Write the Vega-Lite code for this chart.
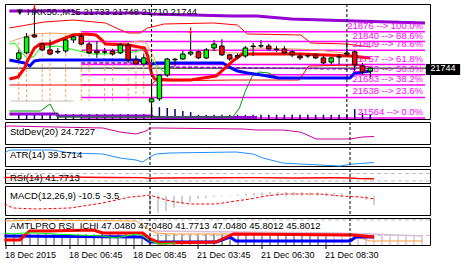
{
"$schema":"https://vega.github.io/schema/vega-lite/v6.json",
"background":"white",
"padding":{"left":2,"top":3,"right":0,"bottom":20},
"spacing":3,
"bounds":"flush",
"resolve":{"scale":{"x":"independent","y":"independent"},"axis":{"x":"independent","y":"independent"}},
"config":{"view":{"stroke":"black","strokeWidth":1},"font":"Liberation Sans",
"line":{"strokeJoin":"round","clip":true},
"rule":{"clip":true},
"axis":{"labelFont":"Liberation Sans","labelFontSize":9,"labelColor":"black","grid":false,"domain":false,"tickColor":"black","labelOverlap":false},
"text":{"font":"Liberation Sans"}},
"datasets":{
"candles":[{"i":0,"o":21777,"h":21810,"l":21770,"c":21799},{"i":1,"o":21799,"h":21871,"l":21795,"c":21857},{"i":2,"o":21864,"h":21960,"l":21853,"c":21857},{"i":3,"o":21831,"h":21835,"l":21806,"c":21810},{"i":4,"o":21810,"h":21846,"l":21792,"c":21795},{"i":5,"o":21805,"h":21817,"l":21795,"c":21802},{"i":6,"o":21806,"h":21849,"l":21799,"c":21846},{"i":7,"o":21846,"h":21868,"l":21835,"c":21857},{"i":8,"o":21860,"h":21868,"l":21828,"c":21831},{"i":9,"o":21831,"h":21839,"l":21795,"c":21799},{"i":10,"o":21806,"h":21842,"l":21781,"c":21799},{"i":11,"o":21803,"h":21817,"l":21795,"c":21802},{"i":12,"o":21806,"h":21813,"l":21790,"c":21795},{"i":13,"o":21799,"h":21835,"l":21795,"c":21828},{"i":14,"o":21828,"h":21835,"l":21763,"c":21774},{"i":15,"o":21774,"h":21790,"l":21756,"c":21759},{"i":16,"o":21759,"h":21795,"l":21752,"c":21781},{"i":17,"o":21622,"h":21700,"l":21564,"c":21633},{"i":18,"o":21633,"h":21723,"l":21625,"c":21719},{"i":19,"o":21719,"h":21781,"l":21712,"c":21777},{"i":20,"o":21774,"h":21781,"l":21750,"c":21776},{"i":21,"o":21777,"h":21806,"l":21774,"c":21795},{"i":22,"o":21795,"h":21868,"l":21788,"c":21802},{"i":23,"o":21803,"h":21810,"l":21777,"c":21781},{"i":24,"o":21781,"h":21817,"l":21777,"c":21810},{"i":25,"o":21817,"h":21846,"l":21806,"c":21831},{"i":26,"o":21824,"h":21849,"l":21788,"c":21792},{"i":27,"o":21792,"h":21795,"l":21770,"c":21777},{"i":28,"o":21790,"h":21797,"l":21777,"c":21784},{"i":29,"o":21788,"h":21824,"l":21781,"c":21817},{"i":30,"o":21822,"h":21835,"l":21788,"c":21824},{"i":31,"o":21824,"h":21845,"l":21817,"c":21825},{"i":32,"o":21824,"h":21832,"l":21806,"c":21813},{"i":33,"o":21813,"h":21824,"l":21803,"c":21811},{"i":34,"o":21813,"h":21824,"l":21795,"c":21799},{"i":35,"o":21803,"h":21810,"l":21784,"c":21792},{"i":36,"o":21788,"h":21795,"l":21773,"c":21781},{"i":37,"o":21789,"h":21795,"l":21781,"c":21788},{"i":38,"o":21792,"h":21797,"l":21777,"c":21781},{"i":39,"o":21781,"h":21788,"l":21759,"c":21763},{"i":40,"o":21766,"h":21784,"l":21756,"c":21781},{"i":41,"o":21785,"h":21795,"l":21756,"c":21784},{"i":42,"o":21799,"h":21842,"l":21788,"c":21795},{"i":43,"o":21803,"h":21810,"l":21734,"c":21756},{"i":44,"o":21752,"h":21763,"l":21719,"c":21730},{"i":45,"o":21733,"h":21748,"l":21710,"c":21744}],
"fib":[{"level":21876,"label":"21876 --> 100.0%"},{"level":21840,"label":"21840 --> 88.6%"},{"level":21809,"label":"21809 --> 78.6%"},{"level":21757,"label":"21757 --> 61.8%"},{"level":21720,"label":"21720 --> 50.0%"},{"level":21683,"label":"21683 --> 38.2%"},{"level":21638,"label":"21638 --> 23.6%"},{"level":21564,"label":"21564 --> 0.0%"}],
"pTop":[{"i":-1.2,"p":21950.7},{"i":7,"p":21950.7},{"i":7.4,"p":21943.4},{"i":16.1,"p":21943.4},{"i":17,"p":21939.8},{"i":27.4,"p":21932.6},{"i":30.5,"p":21932.6},{"i":34.9,"p":21921.7},{"i":43,"p":21914.5},{"i":52,"p":21907.3}],
"pBot":[{"i":-1.2,"p":21578.1},{"i":4.9,"p":21578.1},{"i":5.1,"p":21570.9},{"i":17,"p":21570.9},{"i":17.4,"p":21565.4},{"i":30.5,"p":21565.4}],
"blue":[{"i":-1.2,"p":21773.4},{"i":0.75,"p":21762.6},{"i":1.4,"p":21751.7},{"i":2,"p":21769.8},{"i":2.75,"p":21773.4},{"i":15.25,"p":21773.4},{"i":16.5,"p":21762.6},{"i":17,"p":21759},{"i":17.75,"p":21762.6},{"i":26.1,"p":21762.6},{"i":27.4,"p":21740.9},{"i":28,"p":21733.6},{"i":29.25,"p":21726.4},{"i":31.1,"p":21719.2},{"i":33.25,"p":21708.3},{"i":42.4,"p":21708.3},{"i":43,"p":21726.4},{"i":45,"p":21733.6}],
"redT":[{"i":-1.2,"p":21704.7},{"i":-0.1,"p":21711.9},{"i":0.75,"p":21744.5},{"i":1.1,"p":21769.8},{"i":2,"p":21816.8},{"i":2.75,"p":21831.3},{"i":4,"p":21831.3},{"i":5.25,"p":21845.8},{"i":7,"p":21863.9},{"i":8.6,"p":21867.5},{"i":9.9,"p":21863.9},{"i":10.75,"p":21842.2},{"i":11.1,"p":21831.3},{"i":14,"p":21827.7},{"i":16.1,"p":21816.8},{"i":16.5,"p":21787.9},{"i":17,"p":21722.8},{"i":17.4,"p":21704.7},{"i":19.5,"p":21701},{"i":22,"p":21701},{"i":23.6,"p":21708.3},{"i":25.25,"p":21715.5},{"i":27.4,"p":21769.8},{"i":28.6,"p":21795.1},{"i":36.1,"p":21795.1},{"i":42.4,"p":21787.9},{"i":45,"p":21780.7}],
"bbU":[{"i":-1.2,"p":21889.2},{"i":3.25,"p":21910.9},{"i":7,"p":21918.1},{"i":11.1,"p":21907.3},{"i":12.75,"p":21885.6},{"i":14,"p":21871.1},{"i":15.5,"p":21871.1},{"i":16.5,"p":21889.2},{"i":18.6,"p":21903.7},{"i":24.9,"p":21907.3},{"i":28,"p":21900},{"i":29.25,"p":21867.5},{"i":36.1,"p":21863.9},{"i":37.4,"p":21834.9},{"i":42,"p":21831.3},{"i":45,"p":21820.5}],
"bbL":[{"i":-1.2,"p":21683},{"i":17,"p":21683},{"i":17.4,"p":21697.5},{"i":27.4,"p":21701},{"i":35.9,"p":21701},{"i":37.1,"p":21751.7},{"i":43,"p":21755.3},{"i":45,"p":21748.1}],
"grn":[{"i":-1.2,"p":21831.3},{"i":-0.5,"p":21834.9},{"i":0.25,"p":21806},{"i":1.1,"p":21777},{"i":2,"p":21787.9},{"i":2.75,"p":21816.8},{"i":3.6,"p":21820.5},{"i":4.9,"p":21824.1},{"i":6.1,"p":21816.8},{"i":7.75,"p":21806},{"i":9.5,"p":21795.1},{"i":11.1,"p":21795.1},{"i":12.4,"p":21798.8},{"i":13.25,"p":21806},{"i":14,"p":21798.8},{"i":15.25,"p":21806},{"i":16.1,"p":21813.2},{"i":17,"p":21777},{"i":17.75,"p":21751.7},{"i":18.6,"p":21730}],
"grnB":[{"i":-1.2,"p":21588.9},{"i":2.75,"p":21588.9},{"i":4,"p":21614.3},{"i":4.9,"p":21567.2},{"i":27.4,"p":21567.2},{"i":28.25,"p":21599.8},{"i":29,"p":21661.3},{"i":29.9,"p":21715.5},{"i":30.75,"p":21730},{"i":32,"p":21726.4},{"i":33.25,"p":21708.3},{"i":42.4,"p":21708.3}],
"orC":[{"g":"a","i":-1.2,"p":21838.5},{"g":"a","i":-0.1,"p":21849.4},{"g":"a","i":2,"p":21867.5},{"g":"a","i":4,"p":21871.1},{"g":"a","i":7,"p":21867.5},{"g":"a","i":9.5,"p":21867.5},{"g":"a","i":10.25,"p":21849.4},{"g":"a","i":11.1,"p":21834.9},{"g":"a","i":13.6,"p":21834.9},{"g":"a","i":15.5,"p":21842.2},{"g":"a","i":16.1,"p":21842.2},{"g":"a","i":16.5,"p":21824.1},{"g":"a","i":17.4,"p":21777},{"g":"a","i":17.75,"p":21715.5},{"g":"b","i":22.4,"p":21784.3},{"g":"b","i":23.6,"p":21798.8},{"g":"b","i":24.9,"p":21813.2},{"g":"b","i":26.75,"p":21798.8},{"g":"b","i":28.25,"p":21798.8},{"g":"b","i":29.9,"p":21816.8},{"g":"b","i":35.75,"p":21813.2},{"g":"b","i":38.25,"p":21809.6},{"g":"b","i":41.5,"p":21798.8},{"g":"b","i":43,"p":21787.9},{"g":"b","i":44.25,"p":21769.8}],
"orV":[{"i":0,"t":21838.5},{"i":1,"t":21849},{"i":3,"t":21867.5},{"i":4,"t":21871.1},{"i":6,"t":21868},{"i":8,"t":21867.5},{"i":9,"t":21867.5},{"i":11,"t":21834.9},{"i":12,"t":21834.9},{"i":14,"t":21834.9},{"i":15,"t":21842.2},{"i":16,"t":21842.2}],
"purD":[{"g":"a","i":8,"p":21762.6},{"g":"a","i":17,"p":21762.6},{"g":"b","i":18.6,"p":21748.1},{"g":"b","i":43,"p":21740.9}],
"vol":[{"i":0,"v":21578},{"i":1,"v":21578},{"i":2,"v":21578},{"i":3,"v":21578},{"i":4,"v":21578},{"i":5,"v":21578},{"i":6,"v":21578},{"i":7,"v":21578},{"i":8,"v":21578},{"i":9,"v":21578},{"i":10,"v":21578},{"i":11,"v":21578},{"i":12,"v":21578},{"i":13,"v":21578},{"i":14,"v":21578},{"i":15,"v":21578},{"i":16,"v":21578},{"i":17,"v":21603},{"i":18,"v":21603},{"i":19,"v":21600},{"i":20,"v":21596},{"i":21,"v":21589},{"i":22,"v":21585},{"i":23,"v":21575},{"i":24,"v":21575},{"i":25,"v":21575},{"i":26,"v":21575},{"i":27,"v":21575},{"i":28,"v":21575},{"i":29,"v":21575},{"i":30,"v":21575},{"i":31,"v":21575},{"i":32,"v":21575},{"i":33,"v":21575},{"i":34,"v":21575},{"i":35,"v":21575},{"i":36,"v":21575},{"i":37,"v":21575},{"i":38,"v":21575},{"i":39,"v":21575},{"i":40,"v":21575},{"i":41,"v":21575},{"i":42,"v":21575},{"i":43,"v":21596},{"i":44,"v":21582},{"i":45,"v":21578}],
"arrows":[{"i":2,"p":21964},{"i":22,"p":21878}],
"sep":[{"i":17},{"i":42}],
"xl":[{"i":-1,"t":"18 Dec 2015"},{"i":7,"t":"18 Dec 06:45"},{"i":15,"t":"18 Dec 08:45"},{"i":23,"t":"21 Dec 03:45"},{"i":31,"t":"21 Dec 06:30"},{"i":39,"t":"21 Dec 08:30"}],
"std":[{"i":-1.2,"v":47.84},{"i":-0.75,"v":50.66},{"i":11.1,"v":45.03},{"i":13.25,"v":33.77},{"i":15.25,"v":28.14},{"i":16.5,"v":36.59},{"i":17,"v":45.03},{"i":17.75,"v":45.03},{"i":28.6,"v":42.22},{"i":30.25,"v":39.4},{"i":33.6,"v":39.4},{"i":35.75,"v":33.77},{"i":36.4,"v":28.14},{"i":37.75,"v":14.07},{"i":42,"v":14.07},{"i":42.75,"v":16.89},{"i":43.6,"v":19.7},{"i":45,"v":21.11}],
"atr":[{"i":-1.2,"v":62.76},{"i":-0.5,"v":70.32},{"i":4.9,"v":70.32},{"i":7,"v":62.76},{"i":11.1,"v":60.23},{"i":13.25,"v":50.14},{"i":15.25,"v":45.1},{"i":16.1,"v":40.05},{"i":17,"v":52.67},{"i":17.75,"v":60.23},{"i":19.5,"v":62.76},{"i":27.75,"v":65.29},{"i":29.9,"v":60.23},{"i":31.1,"v":50.14},{"i":33.6,"v":37.53},{"i":35.75,"v":35.01},{"i":40.75,"v":29.96},{"i":41.5,"v":32.49},{"i":42.4,"v":35.01},{"i":45,"v":38.79}],
"rsi":[{"i":-1.2,"v":49},{"i":3,"v":48},{"i":8,"v":50},{"i":12,"v":49},{"i":16,"v":48},{"i":17,"v":45},{"i":18,"v":46},{"i":25,"v":47},{"i":30,"v":48},{"i":35,"v":46},{"i":40,"v":47},{"i":42,"v":46},{"i":43,"v":43},{"i":45,"v":41.77}],
"macdS":[{"i":-1.2,"v":-9.32},{"i":-0.1,"v":-13.86},{"i":2.75,"v":-14.99},{"i":7,"v":-13.86},{"i":11.1,"v":-8.19},{"i":14.5,"v":-1.38},{"i":16.1,"v":-0.24},{"i":17,"v":0.89},{"i":17.75,"v":-1.38},{"i":19.5,"v":-5.92},{"i":22,"v":-9.32},{"i":25.25,"v":-9.32},{"i":27.75,"v":-5.92},{"i":29.5,"v":-3.65},{"i":31.5,"v":-0.24},{"i":33.6,"v":2.03},{"i":35.75,"v":2.03},{"i":38.25,"v":2.03},{"i":40.75,"v":-0.24},{"i":43.25,"v":-1.38},{"i":45,"v":-3.5}],
"macdH":[{"i":17,"v":-20.7},{"i":18,"v":-19.2},{"i":19,"v":-17.3},{"i":20,"v":-13.5},{"i":21,"v":-9.7},{"i":22,"v":-6.8},{"i":23,"v":-3.6},{"i":24,"v":-2.5},{"i":25,"v":-1.5},{"i":26,"v":-0.8},{"i":27,"v":0.5},{"i":28,"v":1.5},{"i":29,"v":2.5},{"i":30,"v":3.2},{"i":31,"v":3.8},{"i":32,"v":4.2},{"i":33,"v":4.3},{"i":34,"v":4.3},{"i":35,"v":4.2},{"i":36,"v":4},{"i":37,"v":3.8},{"i":38,"v":3.6},{"i":39,"v":3.4},{"i":40,"v":3.2},{"i":41,"v":3},{"i":42,"v":2},{"i":43,"v":-1.5},{"i":44,"v":-4.5},{"i":45,"v":-10.5}],
"amO":[{"i":-1.2,"v":68.62},{"i":2.75,"v":69.92},{"i":15.25,"v":68.62},{"i":16.5,"v":59.57},{"i":17.75,"v":53.1},{"i":19.5,"v":51.81},{"i":36.1,"v":51.81},{"i":42.4,"v":49.22},{"i":44.5,"v":42.76},{"i":51.1,"v":42.76}],
"amT":[{"i":17,"v":55.69},{"i":40.25,"v":53.1},{"i":44.5,"v":51.81},{"i":51.1,"v":49.22}],
"amR":[{"i":-1.2,"v":44.05},{"i":0.75,"v":44.05},{"i":1.5,"v":51.81},{"i":2,"v":55.69},{"i":4,"v":55.69},{"i":9.9,"v":56.98},{"i":11.1,"v":53.1},{"i":16.1,"v":53.1},{"i":17,"v":45.34},{"i":18.25,"v":40.17},{"i":25.25,"v":41.46},{"i":27.4,"v":51.81},{"i":42.4,"v":50.51},{"i":45,"v":47.93}],
"amB":[{"i":-1.2,"v":49.22},{"i":16.1,"v":47.93},{"i":17,"v":41.46},{"i":25.25,"v":41.46},{"i":27,"v":47.93},{"i":27.75,"v":42.76},{"i":42,"v":42.76},{"i":42.75,"v":47.93},{"i":45,"v":47.93}],
"amG":[{"i":-1.2,"v":53.1},{"i":-0.1,"v":51.81},{"i":1.1,"v":53.1},{"i":2.75,"v":53.1},{"i":4.9,"v":51.81},{"i":11.1,"v":49.22},{"i":12.75,"v":46.63},{"i":15.25,"v":51.81},{"i":16.1,"v":49.22},{"i":17,"v":42.76},{"i":18.25,"v":38.87},{"i":20.25,"v":40.17}],
"amV":[{"i":-1,"v":51.81},{"i":0,"v":51.81},{"i":1,"v":51.81},{"i":2,"v":51.81},{"i":3,"v":51.81},{"i":4,"v":51.81},{"i":5,"v":51.81},{"i":6,"v":51.81},{"i":7,"v":51.81},{"i":8,"v":51.81},{"i":9,"v":51.81},{"i":10,"v":51.81},{"i":11,"v":51.81},{"i":12,"v":51.81},{"i":13,"v":51.81},{"i":14,"v":51.81},{"i":15,"v":51.81},{"i":16,"v":51.81},{"i":17,"v":51.81},{"i":18,"v":51.81},{"i":19,"v":51.81},{"i":20,"v":51.81},{"i":21,"v":51.81},{"i":22,"v":51.81},{"i":23,"v":51.81},{"i":24,"v":51.81},{"i":25,"v":51.81},{"i":26,"v":51.81},{"i":27,"v":51.81},{"i":28,"v":51.81},{"i":29,"v":51.81},{"i":30,"v":51.81},{"i":31,"v":51.81},{"i":32,"v":51.81},{"i":33,"v":51.81},{"i":34,"v":51.81},{"i":35,"v":51.81},{"i":36,"v":51.81},{"i":37,"v":51.81},{"i":38,"v":51.81},{"i":39,"v":51.81},{"i":40,"v":53},{"i":41,"v":53},{"i":42,"v":53},{"i":43,"v":53},{"i":44,"v":52},{"i":45,"v":51.5},{"i":46,"v":51},{"i":47,"v":50.5},{"i":48,"v":50},{"i":49,"v":49.8},{"i":50,"v":49.5},{"i":51,"v":49.3}]
},
"vconcat":[
{"width":425,"height":115,
"layer":[
{"data":{"name":"fib"},"mark":{"type":"rule","color":"#FF00FF","strokeWidth":1.5},"encoding":{"x":{"datum":8,"type":"quantitative","scale":{"domain":[-1.125,52],"nice":false,"zero":false},"axis":null},"x2":{"datum":52},"y":{"field":"level","type":"quantitative","scale":{"domain":[21560,21976],"nice":false,"zero":false},"axis":{"orient":"right","values":[21564,21684,21804,21929],"format":"d","tickSize":3,"labelPadding":2,"labelFlush":false,"title":null}}}},
{"data":{"values":[{"p":21744}]},"mark":{"type":"rule","color":"black","strokeWidth":1},"encoding":{"y":{"field":"p","type":"quantitative","scale":{"domain":[21560,21976],"nice":false,"zero":false},"axis":null}}},
{"data":{"values":[{"a":-1,"b":7,"p":21625}]},"mark":{"type":"rule","color":"#C0C0C0","strokeWidth":1},"encoding":{"x":{"field":"a","type":"quantitative","scale":{"domain":[-1.125,52],"nice":false,"zero":false},"axis":null},"x2":{"field":"b"},"y":{"field":"p","type":"quantitative","scale":{"domain":[21560,21976],"nice":false,"zero":false},"axis":null}}},
{"data":{"name":"orV"},"mark":{"type":"rule","color":"#F4A460","strokeWidth":1,"strokeDash":[3,2]},"encoding":{"x":{"field":"i","type":"quantitative","scale":{"domain":[-1.125,52],"nice":false,"zero":false},"axis":null},"y":{"field":"t","type":"quantitative","scale":{"domain":[21560,21976],"nice":false,"zero":false},"axis":null},"y2":{"datum":21625}}},
{"data":{"name":"vol"},"mark":{"type":"rule","color":"#000080","strokeWidth":1.5},"encoding":{"x":{"field":"i","type":"quantitative","scale":{"domain":[-1.125,52],"nice":false,"zero":false},"axis":null},"y":{"field":"v","type":"quantitative","scale":{"domain":[21560,21976],"nice":false,"zero":false},"axis":null},"y2":{"datum":21560}}},
{"data":{"name":"pTop"},"mark":{"type":"line","color":"#9400D3","strokeWidth":3},"encoding":{"x":{"field":"i","type":"quantitative","scale":{"domain":[-1.125,52],"nice":false,"zero":false},"axis":null},"y":{"field":"p","type":"quantitative","scale":{"domain":[21560,21976],"nice":false,"zero":false},"axis":null}}},
{"data":{"name":"pBot"},"mark":{"type":"line","color":"#9400D3","strokeWidth":3},"encoding":{"x":{"field":"i","type":"quantitative","scale":{"domain":[-1.125,52],"nice":false,"zero":false},"axis":null},"y":{"field":"p","type":"quantitative","scale":{"domain":[21560,21976],"nice":false,"zero":false},"axis":null}}},
{"data":{"name":"grnB"},"mark":{"type":"line","color":"#009900","strokeWidth":1},"encoding":{"x":{"field":"i","type":"quantitative","scale":{"domain":[-1.125,52],"nice":false,"zero":false},"axis":null},"y":{"field":"p","type":"quantitative","scale":{"domain":[21560,21976],"nice":false,"zero":false},"axis":null}}},
{"data":{"name":"bbU"},"mark":{"type":"line","color":"#FF0000","strokeWidth":1},"encoding":{"x":{"field":"i","type":"quantitative","scale":{"domain":[-1.125,52],"nice":false,"zero":false},"axis":null},"y":{"field":"p","type":"quantitative","scale":{"domain":[21560,21976],"nice":false,"zero":false},"axis":null}}},
{"data":{"name":"bbL"},"mark":{"type":"line","color":"#FF0000","strokeWidth":1},"encoding":{"x":{"field":"i","type":"quantitative","scale":{"domain":[-1.125,52],"nice":false,"zero":false},"axis":null},"y":{"field":"p","type":"quantitative","scale":{"domain":[21560,21976],"nice":false,"zero":false},"axis":null}}},
{"data":{"name":"orC"},"mark":{"type":"line","color":"#F4A460","strokeWidth":1},"encoding":{"x":{"field":"i","type":"quantitative","scale":{"domain":[-1.125,52],"nice":false,"zero":false},"axis":null},"y":{"field":"p","type":"quantitative","scale":{"domain":[21560,21976],"nice":false,"zero":false},"axis":null},"detail":{"field":"g"}}},
{"data":{"name":"purD"},"mark":{"type":"line","color":"#9400D3","strokeWidth":1.5,"strokeDash":[4,2]},"encoding":{"x":{"field":"i","type":"quantitative","scale":{"domain":[-1.125,52],"nice":false,"zero":false},"axis":null},"y":{"field":"p","type":"quantitative","scale":{"domain":[21560,21976],"nice":false,"zero":false},"axis":null},"detail":{"field":"g"}}},
{"data":{"name":"blue"},"mark":{"type":"line","color":"#0000FF","strokeWidth":3},"encoding":{"x":{"field":"i","type":"quantitative","scale":{"domain":[-1.125,52],"nice":false,"zero":false},"axis":null},"y":{"field":"p","type":"quantitative","scale":{"domain":[21560,21976],"nice":false,"zero":false},"axis":null}}},
{"data":{"name":"grn"},"mark":{"type":"line","color":"#00FF00","strokeWidth":1},"encoding":{"x":{"field":"i","type":"quantitative","scale":{"domain":[-1.125,52],"nice":false,"zero":false},"axis":null},"y":{"field":"p","type":"quantitative","scale":{"domain":[21560,21976],"nice":false,"zero":false},"axis":null}}},
{"data":{"name":"redT"},"mark":{"type":"line","color":"#FF0000","strokeWidth":3},"encoding":{"x":{"field":"i","type":"quantitative","scale":{"domain":[-1.125,52],"nice":false,"zero":false},"axis":null},"y":{"field":"p","type":"quantitative","scale":{"domain":[21560,21976],"nice":false,"zero":false},"axis":null}}},
{"data":{"name":"sep"},"mark":{"type":"rule","color":"black","strokeWidth":1,"strokeDash":[3,2]},"encoding":{"x":{"field":"i","type":"quantitative","scale":{"domain":[-1.125,52],"nice":false,"zero":false},"axis":null}}},
{"data":{"name":"fib"},"mark":{"type":"text","color":"#FF00FF","fontSize":9.5,"align":"right","baseline":"bottom","dy":-1},"encoding":{"x":{"datum":51.75,"type":"quantitative","scale":{"domain":[-1.125,52],"nice":false,"zero":false},"axis":null},"y":{"field":"level","type":"quantitative","scale":{"domain":[21560,21976],"nice":false,"zero":false},"axis":null},"text":{"field":"label"}}},
{"data":{"name":"candles"},"mark":{"type":"rule","color":"black","strokeWidth":1},"encoding":{"x":{"field":"i","type":"quantitative","scale":{"domain":[-1.125,52],"nice":false,"zero":false},"axis":null},"y":{"field":"l","type":"quantitative","scale":{"domain":[21560,21976],"nice":false,"zero":false},"axis":null},"y2":{"field":"h"}}},
{"data":{"name":"candles"},"mark":{"type":"bar","size":4.5,"stroke":"black","strokeWidth":1},"encoding":{"x":{"field":"i","type":"quantitative","scale":{"domain":[-1.125,52],"nice":false,"zero":false},"axis":null},"y":{"field":"o","type":"quantitative","scale":{"domain":[21560,21976],"nice":false,"zero":false},"axis":null},"y2":{"field":"c"},"fill":{"condition":{"test":"datum.c >= datum.o","value":"#00FF00"},"value":"#FF0000"}}},
{"data":{"name":"arrows"},"mark":{"type":"point","shape":"arrow","angle":180,"size":60,"filled":true,"color":"#FF0000","opacity":1,"clip":true},"encoding":{"x":{"field":"i","type":"quantitative","scale":{"domain":[-1.125,52],"nice":false,"zero":false},"axis":null},"y":{"field":"p","type":"quantitative","scale":{"domain":[21560,21976],"nice":false,"zero":false},"axis":null}}},
{"data":{"values":[{"t":"▼  HKK50.,M15  21733 21748 21710 21744"}]},"mark":{"type":"text","color":"black","fontSize":9.5,"align":"left","baseline":"alphabetic"},"encoding":{"x":{"datum":-0.5,"type":"quantitative","scale":{"domain":[-1.125,52],"nice":false,"zero":false},"axis":null},"y":{"datum":21936,"type":"quantitative","scale":{"domain":[21560,21976],"nice":false,"zero":false},"axis":null},"text":{"field":"t"}}},
{"data":{"values":[{"p":21744}]},"mark":{"type":"rect","color":"black"},"encoding":{"x":{"datum":52.1,"type":"quantitative","scale":{"domain":[-1.125,52],"nice":false,"zero":false},"axis":null},"x2":{"datum":56.5},"y":{"datum":21759,"type":"quantitative","scale":{"domain":[21560,21976],"nice":false,"zero":false},"axis":null},"y2":{"datum":21719}}},
{"data":{"values":[{"p":21744}]},"mark":{"type":"text","color":"white","fontSize":9,"align":"left","baseline":"middle"},"encoding":{"x":{"datum":52.7,"type":"quantitative","scale":{"domain":[-1.125,52],"nice":false,"zero":false},"axis":null},"y":{"field":"p","type":"quantitative","scale":{"domain":[21560,21976],"nice":false,"zero":false},"axis":null},"text":{"field":"p","type":"quantitative","format":"d"}}}
]},
{"width":425,"height":22,
"layer":[
{"data":{"name":"std"},"mark":{"type":"line","color":"#CC0099","strokeWidth":1},"encoding":{"x":{"field":"i","type":"quantitative","scale":{"domain":[-1.125,52],"nice":false,"zero":false},"axis":null},"y":{"field":"v","type":"quantitative","scale":{"domain":[0,61.9157],"nice":false,"zero":false},"axis":{"orient":"right","values":[0,61.9157],"labelExpr":"datum.value == 0 ? '0' : '61.9157'","ticks":false,"labelPadding":5,"labelFlush":true,"title":null}}}},
{"data":{"name":"sep"},"mark":{"type":"rule","color":"black","strokeWidth":1,"strokeDash":[3,2]},"encoding":{"x":{"field":"i","type":"quantitative","scale":{"domain":[-1.125,52],"nice":false,"zero":false},"axis":null}}},
{"data":{"values":[{"t":"StdDev(20) 24.7227"}]},"mark":{"type":"text","color":"black","fontSize":9.5,"align":"left","baseline":"alphabetic"},"encoding":{"x":{"datum":-0.5,"type":"quantitative","scale":{"domain":[-1.125,52],"nice":false,"zero":false},"axis":null},"y":{"datum":25.33,"type":"quantitative","scale":{"domain":[0,61.9157],"nice":false,"zero":false},"axis":null},"text":{"field":"t"}}}
]},
{"width":425,"height":19,
"layer":[
{"data":{"name":"atr"},"mark":{"type":"line","color":"#1E90FF","strokeWidth":1},"encoding":{"x":{"field":"i","type":"quantitative","scale":{"domain":[-1.125,52],"nice":false,"zero":false},"axis":null},"y":{"field":"v","type":"quantitative","scale":{"domain":[29.9643,77.8929],"nice":false,"zero":false},"axis":{"orient":"right","values":[29.9643,77.8929],"format":".4f","ticks":false,"labelPadding":5,"labelFlush":true,"title":null}}}},
{"data":{"name":"sep"},"mark":{"type":"rule","color":"black","strokeWidth":1,"strokeDash":[3,2]},"encoding":{"x":{"field":"i","type":"quantitative","scale":{"domain":[-1.125,52],"nice":false,"zero":false},"axis":null}}},
{"data":{"values":[{"t":"ATR(14) 39.5714"}]},"mark":{"type":"text","color":"black","fontSize":9.5,"align":"left","baseline":"alphabetic"},"encoding":{"x":{"datum":-0.5,"type":"quantitative","scale":{"domain":[-1.125,52],"nice":false,"zero":false},"axis":null},"y":{"datum":50.14,"type":"quantitative","scale":{"domain":[29.9643,77.8929],"nice":false,"zero":false},"axis":null},"text":{"field":"t"}}}
]},
{"width":425,"height":14,
"layer":[
{"data":{"values":[{"v":70},{"v":30}]},"mark":{"type":"rule","color":"#C0C0C0","strokeWidth":1,"strokeDash":[4,3]},"encoding":{"y":{"field":"v","type":"quantitative","scale":{"domain":[19.33,94],"nice":false,"zero":false},"axis":{"orient":"right","values":[30,50,70],"format":"d","ticks":false,"labelPadding":5,"labelFlush":false,"title":null}}}},
{"data":{"name":"rsi"},"mark":{"type":"line","color":"#FF0000","strokeWidth":1.5},"encoding":{"x":{"field":"i","type":"quantitative","scale":{"domain":[-1.125,52],"nice":false,"zero":false},"axis":null},"y":{"field":"v","type":"quantitative","scale":{"domain":[19.33,94],"nice":false,"zero":false},"axis":null}}},
{"data":{"name":"sep"},"mark":{"type":"rule","color":"black","strokeWidth":1,"strokeDash":[3,2]},"encoding":{"x":{"field":"i","type":"quantitative","scale":{"domain":[-1.125,52],"nice":false,"zero":false},"axis":null}}},
{"data":{"values":[{"t":"RSI(14) 41.7713"}]},"mark":{"type":"text","color":"black","fontSize":9.5,"align":"left","baseline":"alphabetic"},"encoding":{"x":{"datum":-0.5,"type":"quantitative","scale":{"domain":[-1.125,52],"nice":false,"zero":false},"axis":null},"y":{"datum":30,"type":"quantitative","scale":{"domain":[19.33,94],"nice":false,"zero":false},"axis":null},"text":{"field":"t"}}}
]},
{"width":425,"height":29,
"layer":[
{"data":{"name":"macdH"},"mark":{"type":"rule","color":"#C0C0C0","strokeWidth":1.5},"encoding":{"x":{"field":"i","type":"quantitative","scale":{"domain":[-1.125,52],"nice":false,"zero":false},"axis":null},"y":{"field":"v","type":"quantitative","scale":{"domain":[-21.8,11.1],"nice":false,"zero":false},"axis":{"orient":"right","values":[-21.8,0,11.1],"labelExpr":"datum.value == 0 ? '0.00' : format(datum.value, '.1f')","ticks":false,"labelPadding":5,"labelFlush":true,"title":null}},"y2":{"datum":0}}},
{"data":{"name":"macdS"},"mark":{"type":"line","color":"#FF0000","strokeWidth":1,"strokeDash":[3,2]},"encoding":{"x":{"field":"i","type":"quantitative","scale":{"domain":[-1.125,52],"nice":false,"zero":false},"axis":null},"y":{"field":"v","type":"quantitative","scale":{"domain":[-21.8,11.1],"nice":false,"zero":false},"axis":null}}},
{"data":{"name":"sep"},"mark":{"type":"rule","color":"black","strokeWidth":1,"strokeDash":[3,2]},"encoding":{"x":{"field":"i","type":"quantitative","scale":{"domain":[-1.125,52],"nice":false,"zero":false},"axis":null}}},
{"data":{"values":[{"t":"MACD(12,26,9) -10.5 -3.5"}]},"mark":{"type":"text","color":"black","fontSize":9.5,"align":"left","baseline":"alphabetic"},"encoding":{"x":{"datum":-0.5,"type":"quantitative","scale":{"domain":[-1.125,52],"nice":false,"zero":false},"axis":null},"y":{"datum":-3.65,"type":"quantitative","scale":{"domain":[-21.8,11.1],"nice":false,"zero":false},"axis":null},"text":{"field":"t"}}}
]},
{"width":425,"height":27,
"layer":[
{"data":{"name":"amV"},"mark":{"type":"rule","strokeWidth":1},"encoding":{"x":{"field":"i","type":"quantitative","scale":{"domain":[-1.125,52],"nice":false,"zero":false},"axis":null},"y":{"field":"v","type":"quantitative","scale":{"domain":[37.579,72.5016],"nice":false,"zero":false},"axis":{"orient":"right","values":[37.579,50,70,72.5016],"labelExpr":"datum.value < 40 ? '37.579' : datum.value < 60 ? '50' : datum.value < 71 ? '70' : '72.5016'","ticks":false,"labelPadding":5,"labelFlush":true,"title":null}},"y2":{"datum":37.579},"color":{"condition":{"test":"datum.i >= 40","value":"#C8A2C8"},"value":"#404040"}}},
{"data":{"values":[{"v":70},{"v":50}]},"mark":{"type":"rule","color":"#C0C0C0","strokeWidth":1,"strokeDash":[4,3]},"encoding":{"y":{"field":"v","type":"quantitative","scale":{"domain":[37.579,72.5016],"nice":false,"zero":false},"axis":null}}},
{"data":{"name":"amT"},"mark":{"type":"line","color":"#D8BFD8","strokeWidth":1.5},"encoding":{"x":{"field":"i","type":"quantitative","scale":{"domain":[-1.125,52],"nice":false,"zero":false},"axis":null},"y":{"field":"v","type":"quantitative","scale":{"domain":[37.579,72.5016],"nice":false,"zero":false},"axis":null}}},
{"data":{"name":"amO"},"mark":{"type":"line","color":"#FF9933","strokeWidth":1},"encoding":{"x":{"field":"i","type":"quantitative","scale":{"domain":[-1.125,52],"nice":false,"zero":false},"axis":null},"y":{"field":"v","type":"quantitative","scale":{"domain":[37.579,72.5016],"nice":false,"zero":false},"axis":null}}},
{"data":{"name":"amB"},"mark":{"type":"line","color":"#0000FF","strokeWidth":3},"encoding":{"x":{"field":"i","type":"quantitative","scale":{"domain":[-1.125,52],"nice":false,"zero":false},"axis":null},"y":{"field":"v","type":"quantitative","scale":{"domain":[37.579,72.5016],"nice":false,"zero":false},"axis":null}}},
{"data":{"name":"amR"},"mark":{"type":"line","color":"#FF0000","strokeWidth":3},"encoding":{"x":{"field":"i","type":"quantitative","scale":{"domain":[-1.125,52],"nice":false,"zero":false},"axis":null},"y":{"field":"v","type":"quantitative","scale":{"domain":[37.579,72.5016],"nice":false,"zero":false},"axis":null}}},
{"data":{"name":"amG"},"mark":{"type":"line","color":"#00FF00","strokeWidth":1},"encoding":{"x":{"field":"i","type":"quantitative","scale":{"domain":[-1.125,52],"nice":false,"zero":false},"axis":null},"y":{"field":"v","type":"quantitative","scale":{"domain":[37.579,72.5016],"nice":false,"zero":false},"axis":null}}},
{"data":{"name":"sep"},"mark":{"type":"rule","color":"black","strokeWidth":1,"strokeDash":[3,2]},"encoding":{"x":{"field":"i","type":"quantitative","scale":{"domain":[-1.125,52],"nice":false,"zero":false},"axis":null}}},
{"data":{"name":"xl"},"mark":{"type":"rule","color":"black","strokeWidth":1,"clip":false},"encoding":{"x":{"field":"i","type":"quantitative","scale":{"domain":[-1.125,52],"nice":false,"zero":false},"axis":null},"y":{"datum":37.579,"type":"quantitative","scale":{"domain":[37.579,72.5016],"nice":false,"zero":false},"axis":null},"y2":{"datum":32.4}}},
{"data":{"name":"xl"},"mark":{"type":"text","color":"black","fontSize":9,"align":"left","baseline":"top","dy":6,"dx":-1},"encoding":{"x":{"field":"i","type":"quantitative","scale":{"domain":[-1.125,52],"nice":false,"zero":false},"axis":null},"y":{"datum":37.579,"type":"quantitative","scale":{"domain":[37.579,72.5016],"nice":false,"zero":false},"axis":null},"text":{"field":"t"}}},
{"data":{"values":[{"t":"AMTLPRO RSI_ICHI 47.0480 47.0480 41.7713 47.0480 45.8012 45.8012"}]},"mark":{"type":"text","color":"black","fontSize":9.5,"align":"left","baseline":"alphabetic"},"encoding":{"x":{"datum":-0.5,"type":"quantitative","scale":{"domain":[-1.125,52],"nice":false,"zero":false},"axis":null},"y":{"datum":58.27,"type":"quantitative","scale":{"domain":[37.579,72.5016],"nice":false,"zero":false},"axis":null},"text":{"field":"t"}}}
]}
]
}
